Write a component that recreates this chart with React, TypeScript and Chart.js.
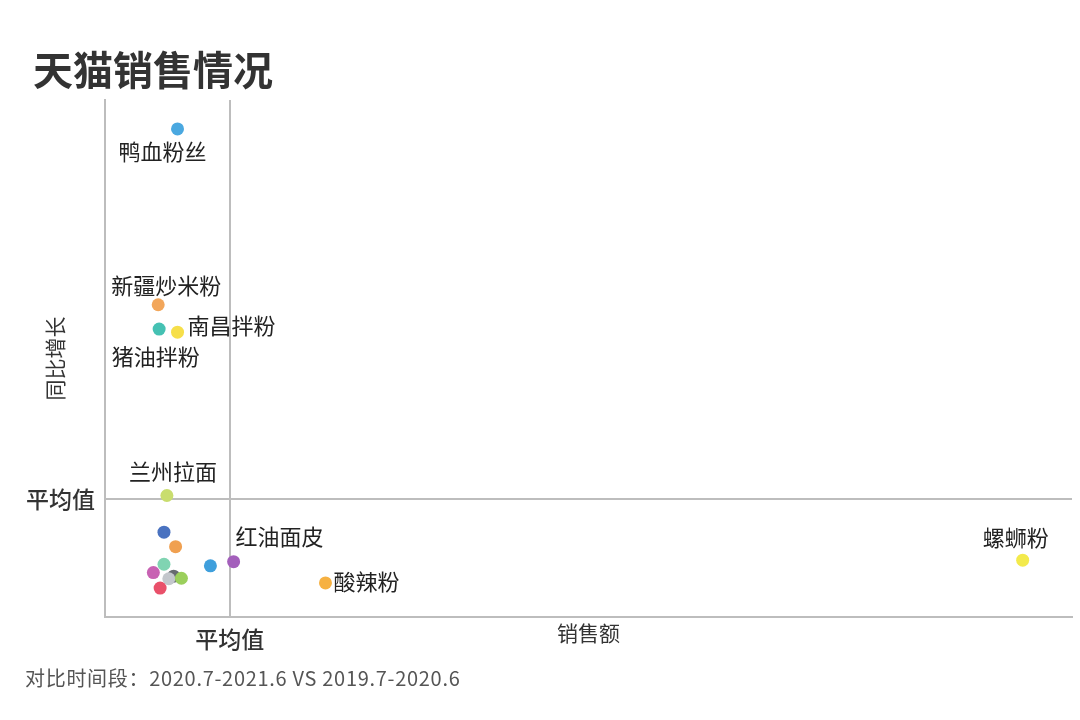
import React, { useEffect, useRef } from 'react';
import { Chart, registerables } from 'chart.js';

Chart.register(...registerables);

const TITLE = '天猫销售情况';
const FOOTNOTE = '对比时间段：2020.7-2021.6 VS 2019.7-2020.6';
const X_TITLE = '销售额';
const Y_TITLE = '同比增长';
const AVG_LABEL = '平均值';

const names = [
  '鸭血粉丝', '新疆炒米粉', '猪油拌粉', '南昌拌粉', '兰州拉面',
  '', '', '', '', '', '', '', '', '',
  '红油面皮', '酸辣粉', '螺蛳粉',
];
const salesValues = [7.5, 5.5, 5.6, 7.5, 6.4, 6.1, 7.3, 6.1, 5.0, 7.1, 6.6, 7.9, 5.7, 10.9, 13.3, 22.8, 94.9];
const growthValues = [94.4, 60.4, 55.7, 55.1, 23.5, 16.4, 13.6, 10.2, 8.6, 7.9, 7.4, 7.5, 5.6, 9.9, 10.7, 6.6, 11.0];
const AVG_SALES = 12.9;
const AVG_GROWTH = 22.8;

const pointColors = [
  '#4aa8e0', '#f2a65a', '#45c1b3', '#f6df4a', '#c9dd6e',
  '#4a72c0', '#f0a050', '#80d4b2', '#c862b3', '#666b70',
  '#c3c7cc', '#9bcf5c', '#e9506a', '#3f9fdc',
  '#a35fbb', '#f6b142', '#f3ea4c',
];

// label placement relative to each point: [dx, dy, align]
const LABEL_LAYOUT: [number, number, CanvasTextAlign][] = [
  [-15, 23, 'center'], [8, -19, 'center'], [-3.5, 28, 'center'], [10, -6, 'left'], [6, -24, 'center'],
  [0, 0, 'center'], [0, 0, 'center'], [0, 0, 'center'], [0, 0, 'center'], [0, 0, 'center'],
  [0, 0, 'center'], [0, 0, 'center'], [0, 0, 'center'], [0, 0, 'center'],
  [2, -25, 'left'], [8, -1, 'left'], [-7, -22, 'center'],
];

const FONT = '"Noto Sans CJK SC", "Noto Sans", sans-serif';

const overlayPlugin = {
  id: 'overlay',
  afterDatasetsDraw(chart: any) {
    const ctx: any = chart.ctx;
    const meta = chart.getDatasetMeta(0);
    ctx.save();
    ctx.textBaseline = 'middle';
    ctx.font = `22px ${FONT}`;
    ctx.fillStyle = '#222';
    meta.data.forEach((el: any, i: number) => {
      const name = names[i];
      if (!name) return;
      const [dx, dy, align] = LABEL_LAYOUT[i];
      ctx.textAlign = align;
      ctx.fillText(name, el.x + dx, el.y + dy);
    });
    ctx.textAlign = 'left';
    ctx.fillStyle = '#333';
    ctx.font = `bold 40px ${FONT}`;
    ctx.fillText(TITLE, 33, 70);
    ctx.fillStyle = '#555';
    ctx.font = `20px ${FONT}`;
    ctx.letterSpacing = '0.7px';
    ctx.fillText(FOOTNOTE, 25, 678);
    ctx.restore();
  },
};

export default function App() {
  const ref = useRef<HTMLCanvasElement | null>(null);
  useEffect(() => {
    document.body.style.margin = '0';
    const canvas = ref.current;
    if (!canvas) return;
    const chart = new Chart(canvas, {
      type: 'scatter',
      data: {
        datasets: [
          {
            data: salesValues.map((x, i) => ({ x, y: growthValues[i] })),
            backgroundColor: pointColors,
            borderWidth: 0,
            pointRadius: 6.5,
            pointHoverRadius: 6.5,
          },
        ],
      },
      options: {
        animation: false,
        responsive: false,
        maintainAspectRatio: false,
        layout: { padding: { left: 15, right: 8, top: 100, bottom: 0 } },
        plugins: {
          legend: { display: false },
          tooltip: { enabled: false },
          title: { display: false },
        },
        scales: {
          x: {
            type: 'linear',
            min: 0,
            max: 100,
            afterBuildTicks: (s: any) => {
              s.ticks = [{ value: AVG_SALES }];
            },
            afterFit: (s: any) => {
              s.height = 103;
              s.paddingLeft = 0;
              s.paddingRight = 0;
            },
            ticks: {
              callback: () => AVG_LABEL,
              font: { family: FONT, size: 23, weight: '500' },
              color: '#333',
              padding: 8,
              maxRotation: 0,
              autoSkip: false,
            },
            grid: { color: '#bdbdbd', lineWidth: 2, drawTicks: false },
            border: { color: '#bdbdbd', width: 2 },
            title: {
              display: true,
              text: X_TITLE,
              font: { family: FONT, size: 21 },
              color: '#333',
              padding: { top: 0, bottom: 74 },
            },
          },
          y: {
            type: 'linear',
            min: 0,
            max: 100,
            afterBuildTicks: (s: any) => {
              s.ticks = [{ value: AVG_GROWTH }];
            },
            afterFit: (s: any) => {
              s.width = 90;
              s.paddingTop = 0;
              s.paddingBottom = 0;
            },
            ticks: {
              callback: () => AVG_LABEL,
              font: { family: FONT, size: 23, weight: '500' },
              color: '#333',
              padding: 10,
              autoSkip: false,
            },
            grid: { color: '#bdbdbd', lineWidth: 2, drawTicks: false },
            border: { color: '#bdbdbd', width: 2 },
            title: {
              display: true,
              text: Y_TITLE,
              font: { family: FONT, size: 21 },
              color: '#333',
              padding: { top: 27, bottom: 0 },
            },
          },
        },
      },
      plugins: [overlayPlugin],
    } as any);
    return () => chart.destroy();
  }, []);
  return (
    <div style={{ width: 1080, height: 720, background: '#fff' }}>
      <canvas ref={ref} width={1080} height={720} style={{ display: 'block', width: 1080, height: 720 }} />
    </div>
  );
}
